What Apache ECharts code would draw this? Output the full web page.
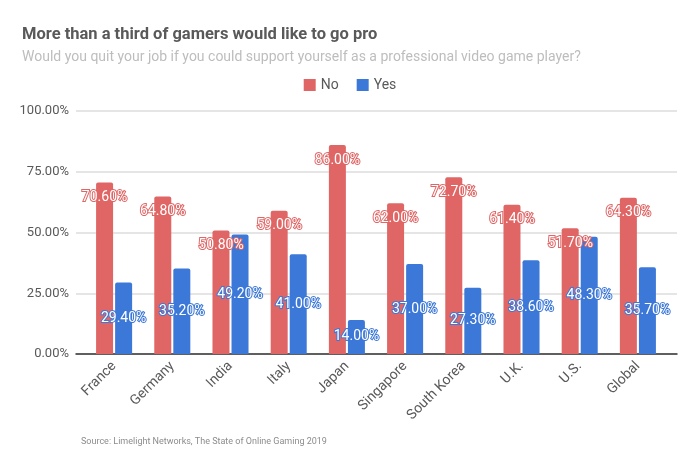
<!DOCTYPE html>
<html><head><meta charset="utf-8">
<script src="https://cdn.jsdelivr.net/npm/echarts@6/dist/echarts.min.js"></script>
<style>html,body{margin:0;padding:0;background:#fff}#c{width:700px;height:465px}</style>
</head><body><div id="c"></div>
<script>
const categories = ["France","Germany","India","Italy","Japan","Singapore","South Korea","U.K.","U.S.","Global"];
const noValues = [70.6,64.8,50.8,59.0,86.0,62.0,72.7,61.4,51.7,64.3];
const yesValues = [29.4,35.2,49.2,41.0,14.0,37.0,27.3,38.6,48.3,35.7];
const yTicks = [0,25,50,75,100];

const chart = echarts.init(document.getElementById('c'));
const fmt = p => p.value.toFixed(2) + '%';
chart.setOption({
  animation:false,
  title:[{text:'More than a third of gamers would like to go pro',left:17,top:21,
    textStyle:{fontFamily:'Roboto',fontSize:16.5,fontWeight:'bold',color:'#595959'}},
    {text:'Would you quit your job if you could support yourself as a professional video game player?',left:17,top:45,
    textStyle:{fontFamily:'Roboto',fontSize:14,fontWeight:'normal',color:'#bdbdbd'}},
    {text:'Source: Limelight Networks, The State of Online Gaming 2019',left:76,top:432,
    textStyle:{fontFamily:'Roboto',fontSize:9,fontWeight:'normal',color:'#8c8c8c'}}],
  legend:{top:73,left:'center',itemWidth:12,itemHeight:12,itemGap:18,icon:'rect',
    textStyle:{fontFamily:'Roboto',fontSize:14,color:'#595959'}},
  grid:[{left:85,right:33,top:111,bottom:111},{left:76,right:23,top:111,bottom:111}],
  xAxis:[{type:'category',data:categories,gridIndex:0,
    axisLine:{show:false},axisTick:{show:false},
    axisLabel:{rotate:45,fontFamily:'Roboto',fontSize:14,color:'#595959',margin:10,interval:0}},
    {type:'category',data:[''],gridIndex:1,axisLine:{lineStyle:{color:'#333',width:1.5}},
     axisTick:{show:false},axisLabel:{show:false}}],
  yAxis:[{type:'value',gridIndex:0,min:yTicks[0],max:yTicks[yTicks.length-1],interval:25,
    axisLabel:{show:false},splitLine:{show:false},axisLine:{show:false},axisTick:{show:false}},
    {type:'value',gridIndex:1,min:yTicks[0],max:yTicks[yTicks.length-1],interval:25,
    axisLabel:{formatter:v=>v.toFixed(2)+'%',fontFamily:'Roboto',fontSize:13,color:'#595959',margin:7},
    splitLine:{lineStyle:{color:'#dddddd',width:1.5}},axisLine:{show:false},axisTick:{show:false}}],
  series:[
    {name:'No',type:'bar',data:noValues,barWidth:17,barGap:'12%',z:3,
      itemStyle:{color:'#e06666',borderRadius:[2,2,0,0]},
      label:{show:true,position:'insideTop',distance:8,formatter:fmt,fontFamily:'Roboto',fontSize:14,
        color:'#fff',textBorderColor:'#e06666',textBorderWidth:2}},
    {name:'Yes',type:'bar',data:yesValues,barWidth:17,z:3,
      itemStyle:{color:'#3c78d8',borderRadius:[2,2,0,0]},
      label:{show:true,position:'inside',formatter:fmt,fontFamily:'Roboto',fontSize:14,
        color:'#fff',textBorderColor:'#3c78d8',textBorderWidth:2}}
  ]
});
</script></body></html>
